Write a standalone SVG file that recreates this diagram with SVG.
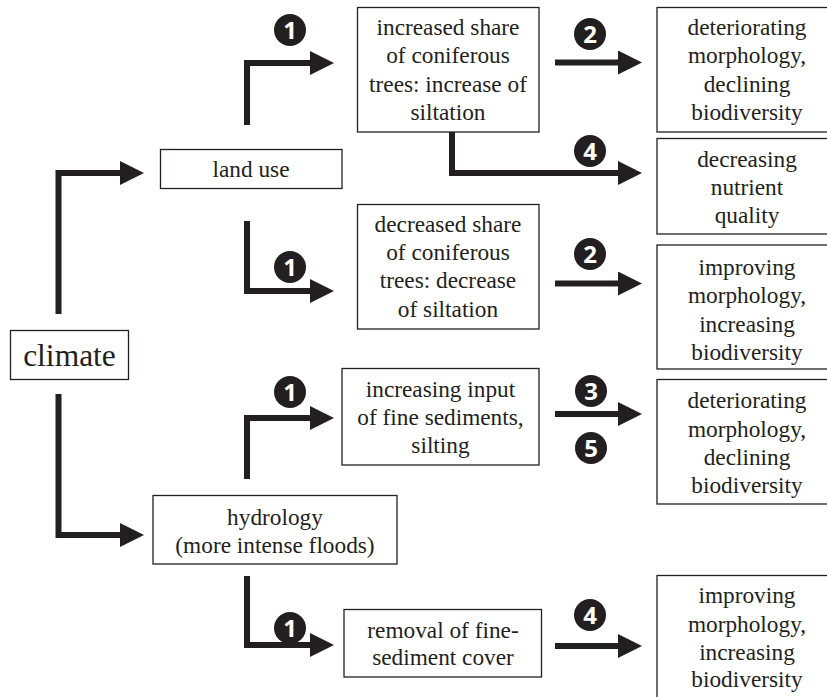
<svg xmlns="http://www.w3.org/2000/svg" width="827" height="697" viewBox="0 0 827 697">
  <style>
    .box { fill: #ffffff; stroke: #231f20; stroke-width: 1.3; }
    .lbl { font-family: "Liberation Serif", "Times New Roman", serif; font-size: 23.3px; fill: #231f20; text-anchor: middle; }
    .big { font-size: 31.5px; }
    .link { fill: none; stroke: #231f20; stroke-width: 6; stroke-linejoin: miter; stroke-linecap: butt; }
    .badge circle { fill: #231f20; }
    .badge text { font-family: "Open Sans", "DejaVu Sans", sans-serif; font-weight: 700; font-size: 24px; fill: #ffffff; text-anchor: middle; }
  </style>
  <defs>
    <marker id="head" viewBox="0 0 24 24" refX="0" refY="12" markerWidth="24" markerHeight="24" markerUnits="userSpaceOnUse" orient="auto">
      <path d="M0,0 L24,12 L0,24 Z" fill="#231f20"/>
    </marker>
  </defs>

  <rect width="827" height="697" fill="#ffffff"/>

  <!-- connectors -->
  <g id="connectors">
    <path class="link" d="M58.5,314 V173 H120" marker-end="url(#head)"/>
    <path class="link" d="M58.5,394 V535 H120" marker-end="url(#head)"/>
    <path class="link" d="M247,125 V63 H310" marker-end="url(#head)"/>
    <path class="link" d="M247,221 V291 H310" marker-end="url(#head)"/>
    <path class="link" d="M247,479 V418 H310" marker-end="url(#head)"/>
    <path class="link" d="M247,576 V645 H310" marker-end="url(#head)"/>
    <path class="link" d="M555,62.5 H618" marker-end="url(#head)"/>
    <path class="link" d="M452,132 V173 H618" marker-end="url(#head)"/>
    <path class="link" d="M555,283.5 H618" marker-end="url(#head)"/>
    <path class="link" d="M555,414 H618" marker-end="url(#head)"/>
    <path class="link" d="M555,646 H618" marker-end="url(#head)"/>
  </g>

  <!-- numbered badges -->
  <g id="badges">
    <g class="badge"><circle cx="290" cy="30" r="16"/><text x="290" y="38.5">1</text></g>
    <g class="badge"><circle cx="290" cy="267" r="16"/><text x="290" y="275.5">1</text></g>
    <g class="badge"><circle cx="290" cy="392" r="16"/><text x="290" y="400.5">1</text></g>
    <g class="badge"><circle cx="290" cy="628" r="16"/><text x="290" y="636.5">1</text></g>
    <g class="badge"><circle cx="590" cy="34" r="16"/><text x="590" y="42.5">2</text></g>
    <g class="badge"><circle cx="590" cy="151" r="16"/><text x="590" y="159.5">4</text></g>
    <g class="badge"><circle cx="590" cy="254" r="16"/><text x="590" y="262.5">2</text></g>
    <g class="badge"><circle cx="591" cy="391" r="16"/><text x="591" y="399.5">3</text></g>
    <g class="badge"><circle cx="591" cy="448" r="16"/><text x="591" y="456.5">5</text></g>
    <g class="badge"><circle cx="590" cy="615" r="16"/><text x="590" y="623.5">4</text></g>
  </g>

  <!-- nodes -->
  <g id="climate">
    <rect class="box" x="10.5" y="330.5" width="118" height="49"/>
    <text class="lbl big" x="69.5" y="366">climate</text>
  </g>

  <g id="land-use">
    <rect class="box" x="160.5" y="149.5" width="181.5" height="39"/>
    <text class="lbl" x="251" y="177">land use</text>
  </g>

  <g id="hydrology">
    <rect class="box" x="153" y="495.5" width="244" height="68.5"/>
    <text class="lbl" x="275" y="525">hydrology</text>
    <text class="lbl" x="275" y="553">(more intense floods)</text>
  </g>

  <g id="conifer-increase">
    <rect class="box" x="357.5" y="7.5" width="181.5" height="124.5"/>
    <text class="lbl" x="448" y="35">increased share</text>
    <text class="lbl" x="448" y="63.3">of coniferous</text>
    <text class="lbl" x="448" y="91.7">trees: increase of</text>
    <text class="lbl" x="448" y="120">siltation</text>
  </g>

  <g id="conifer-decrease">
    <rect class="box" x="357.5" y="204.5" width="181.5" height="124.5"/>
    <text class="lbl" x="448" y="231.7">decreased share</text>
    <text class="lbl" x="448" y="260">of coniferous</text>
    <text class="lbl" x="448" y="288.3">trees: decrease</text>
    <text class="lbl" x="448" y="316.7">of siltation</text>
  </g>

  <g id="fine-sediment-input">
    <rect class="box" x="342" y="368.5" width="197" height="96.5"/>
    <text class="lbl" x="440.5" y="396.7">increasing input</text>
    <text class="lbl" x="440.5" y="425">of fine sediments,</text>
    <text class="lbl" x="440.5" y="453.3">silting</text>
  </g>

  <g id="fine-sediment-removal">
    <rect class="box" x="344" y="609.5" width="197.5" height="67.5"/>
    <text class="lbl" x="443" y="638.3">removal of fine-</text>
    <text class="lbl" x="443" y="665">sediment cover</text>
  </g>

  <g id="outcome-deteriorating-1">
    <rect class="box" x="657" y="7.5" width="180" height="124.5"/>
    <text class="lbl" x="747" y="35">deteriorating</text>
    <text class="lbl" x="747" y="63.3">morphology,</text>
    <text class="lbl" x="747" y="91.7">declining</text>
    <text class="lbl" x="747" y="120">biodiversity</text>
  </g>

  <g id="outcome-nutrient">
    <rect class="box" x="657" y="138.5" width="180" height="95.5"/>
    <text class="lbl" x="747" y="166.5">decreasing</text>
    <text class="lbl" x="747" y="195">nutrient</text>
    <text class="lbl" x="747" y="222.5">quality</text>
  </g>

  <g id="outcome-improving-1">
    <rect class="box" x="657" y="245" width="180" height="124"/>
    <text class="lbl" x="747" y="275">improving</text>
    <text class="lbl" x="747" y="303.3">morphology,</text>
    <text class="lbl" x="747" y="331.6">increasing</text>
    <text class="lbl" x="747" y="359.5">biodiversity</text>
  </g>

  <g id="outcome-deteriorating-2">
    <rect class="box" x="657" y="379.5" width="180" height="124.5"/>
    <text class="lbl" x="747" y="408.3">deteriorating</text>
    <text class="lbl" x="747" y="436.7">morphology,</text>
    <text class="lbl" x="747" y="465">declining</text>
    <text class="lbl" x="747" y="492.7">biodiversity</text>
  </g>

  <g id="outcome-improving-2">
    <rect class="box" x="657" y="575.5" width="180" height="130"/>
    <text class="lbl" x="747" y="603.3">improving</text>
    <text class="lbl" x="747" y="631.7">morphology,</text>
    <text class="lbl" x="747" y="660">increasing</text>
    <text class="lbl" x="747" y="687">biodiversity</text>
  </g>
</svg>
